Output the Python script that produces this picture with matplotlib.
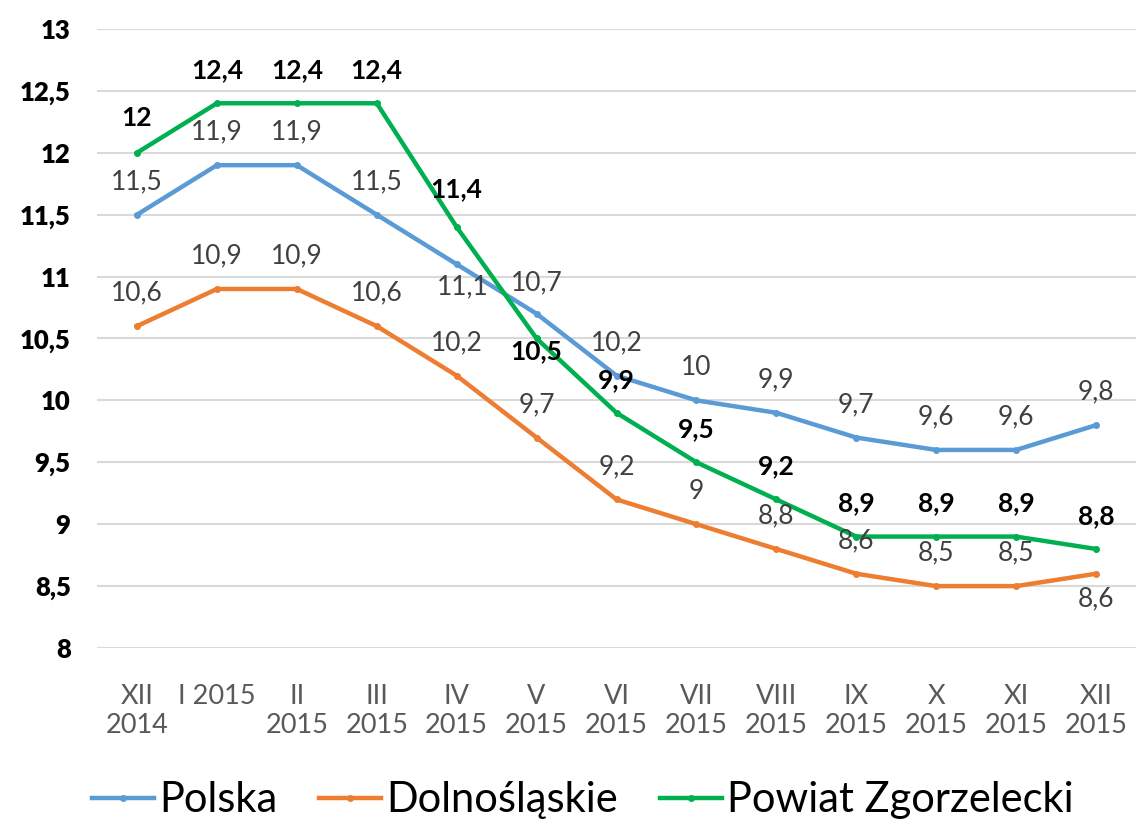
import matplotlib
matplotlib.use("Agg")
import matplotlib.pyplot as plt

plt.rcParams['font.family'] = ['Lato', 'DejaVu Sans']

# data
months = ['XII\n2014', 'I 2015', 'II\n2015', 'III\n2015', 'IV\n2015', 'V\n2015',
          'VI\n2015', 'VII\n2015', 'VIII\n2015', 'IX\n2015', 'X\n2015', 'XI\n2015', 'XII\n2015']
polska = [11.5, 11.9, 11.9, 11.5, 11.1, 10.7, 10.2, 10.0, 9.9, 9.7, 9.6, 9.6, 9.8]
dolnoslaskie = [10.6, 10.9, 10.9, 10.6, 10.2, 9.7, 9.2, 9.0, 8.8, 8.6, 8.5, 8.5, 8.6]
powiat = [12.0, 12.4, 12.4, 12.4, 11.4, 10.5, 9.9, 9.5, 9.2, 8.9, 8.9, 8.9, 8.8]
yticks = [8, 8.5, 9, 9.5, 10, 10.5, 11, 11.5, 12, 12.5, 13]

def fmt(v):
    s = ('%.1f' % v).rstrip('0').rstrip('.')
    return s.replace('.', ',')

fig = plt.figure(figsize=(11.36, 8.21), dpi=100)
ax = fig.add_axes([0.0854, 0.2107, 0.9146, 0.754])

series = [
    ('Polska', polska, '#5B9BD5'),
    ('Dolnośląskie', dolnoslaskie, '#ED7D31'),
    ('Powiat Zgorzelecki', powiat, '#00B050'),
]
x = list(range(len(months)))
for name, vals, col in series:
    ax.plot(x, vals, color=col, lw=3.2, marker='o', ms=4, label=name,
            solid_joinstyle='round', zorder=3)

# data labels (offset in pixels from the point)
def label_series(vals, offsets, color, weight):
    for i, v in enumerate(vals):
        dx, dy = offsets.get(i, (0, 33))
        ax.annotate(fmt(v), (i, v), xytext=(dx, dy), textcoords='offset pixels',
                    ha='center', va='center', fontsize=19, color=color,
                    fontweight=weight, zorder=5)

label_series(polska, {4: (6, -23), 5: (0, 31)}, '#404040', 'normal')
label_series(dolnoslaskie, {12: (0, -25)}, '#404040', 'normal')
label_series(powiat, {0: (0, 35), 4: (0, 38), 5: (0, -13)}, 'black', 'bold')

ax.set_xlim(-0.5, len(months) - 0.5)
ax.set_ylim(8, 13)
ax.set_xticks(x)
ax.set_xticklabels(months, fontsize=19.5, color='#595959', linespacing=1.2)
ax.set_yticks(yticks)
ax.set_yticklabels([fmt(t) for t in yticks], fontsize=18.5, fontweight='heavy', color='black')
ax.tick_params(axis='both', length=0)
ax.tick_params(axis='y', pad=19)
ax.tick_params(axis='x', pad=26)
ax.grid(axis='y', color='#d9d9d9', lw=1.5)
ax.set_axisbelow(True)
for sp in ax.spines.values():
    sp.set_visible(False)

fig.legend(loc='center', bbox_to_anchor=(0.513, 0.025), ncol=3, frameon=False,
           fontsize=30, handlelength=1.5, handletextpad=0.12, columnspacing=1.0,
           borderaxespad=0)

fig.savefig('out.png', dpi=100)
